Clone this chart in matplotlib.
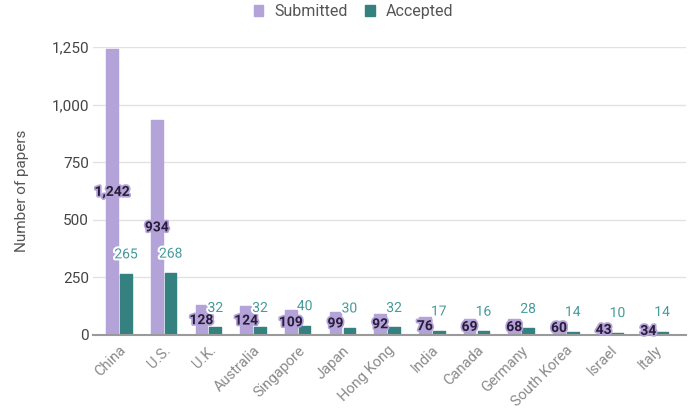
import matplotlib.pyplot as plt
import matplotlib.patheffects as pe
from matplotlib.ticker import FuncFormatter

paises = [
    "China", "U.S.", "U.K.", "Australia", "Singapore", "Japan", "Hong Kong",
    "India", "Canada", "Germany", "South Korea", "Israel", "Italy"
]
enviados = [1242, 934, 128, 124, 109, 99, 92, 76, 69, 68, 60, 43, 34]
aceptados = [265, 268, 32, 32, 40, 30, 32, 17, 16, 28, 14, 10, 14]

COLOR_ENVIADOS = "#b4a3d9"
COLOR_ACEPTADOS = "#34817f"


def graficar_papers(nombre_archivo: str = "out.png") -> None:
    """
    Genera el gráfico de barras agrupadas de papers enviados y aceptados.

    Args:
        nombre_archivo (str): Ruta donde se guarda la imagen PNG.

    Returns:
        None
    """
    plt.rcParams["font.family"] = ["Roboto", "DejaVu Sans"]

    fig = plt.figure(figsize=(7, 4.17), dpi=100)
    ax = fig.add_axes([0.133, 0.197, 0.847, 0.69])

    x = list(range(len(paises)))
    ancho = 0.26
    sep = 0.025
    x_env = [i - ancho / 2 - sep for i in x]
    x_acc = [i + ancho / 2 + sep for i in x]

    ax.bar(x_env, enviados, width=ancho, color=COLOR_ENVIADOS,
           edgecolor=COLOR_ENVIADOS, linewidth=1.0, joinstyle="round",
           label="Submitted", zorder=3)
    ax.bar(x_acc, aceptados, width=ancho, color=COLOR_ACEPTADOS,
           edgecolor=COLOR_ACEPTADOS, linewidth=1.0, joinstyle="round",
           label="Accepted", zorder=3)

    # Etiquetas de los enviados: centradas en la barra
    for xi, valor in zip(x_env, enviados):
        ax.text(xi, valor / 2, f"{valor:,}", ha="center", va="center",
                fontsize=10, fontweight="bold", color="#2a1d3a", zorder=5,
                path_effects=[pe.withStroke(linewidth=2.5, foreground=COLOR_ENVIADOS)])

    # Etiquetas de los aceptados: por encima de la barra
    for xi, valor in zip(x_acc, aceptados):
        ax.annotate(f"{valor:,}", xy=(xi, valor), xytext=(0, 9),
                    textcoords="offset points", ha="center", va="bottom",
                    fontsize=10, color="#459a9a", zorder=5,
                    path_effects=[pe.withStroke(linewidth=3, foreground="white")])

    ax.set_xlim(-0.58, len(paises) - 1 + 0.69)
    ax.set_ylim(0, 1250)
    ax.set_yticks([0, 250, 500, 750, 1000, 1250])
    ax.yaxis.set_major_formatter(FuncFormatter(lambda v, _: f"{int(v):,}"))
    ax.set_xticks(x)
    ax.set_xticklabels(paises, rotation=45, ha="right", rotation_mode="anchor",
                       color="#8a8a8a", fontsize=10.5)
    ax.tick_params(axis="y", length=0, labelsize=11, labelcolor="#444444", pad=3)
    ax.tick_params(axis="x", length=0, pad=6)

    ax.set_ylabel("Number of papers", fontsize=11, color="#555555", labelpad=16)

    ax.grid(True, axis="y", color="#e2e2e2", linewidth=1, zorder=0)
    ax.set_axisbelow(True)
    for lado in ["top", "right", "left"]:
        ax.spines[lado].set_visible(False)
    ax.spines["bottom"].set_color("#9a9a9a")
    ax.spines["bottom"].set_linewidth(1.5)
    ax.spines["bottom"].set_zorder(4)

    fig.legend(loc="upper center", bbox_to_anchor=(0.505, 1.025), ncol=2,
               frameon=False, fontsize=11.5, handlelength=0.6, handleheight=0.7,
               handletextpad=0.7, columnspacing=1.1, labelcolor="#555555")

    fig.savefig(nombre_archivo, dpi=100)
    plt.close(fig)


if __name__ == "__main__":
    graficar_papers()
